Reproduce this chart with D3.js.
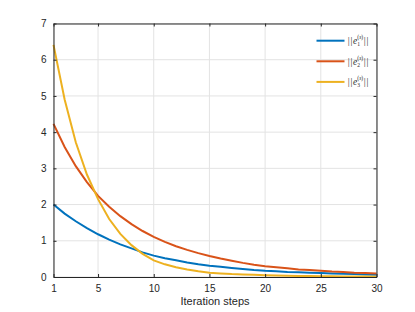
<!DOCTYPE html>
<html>
<head>
<meta charset="utf-8">
<script src="https://cdn.jsdelivr.net/npm/d3@7"></script>
<style>
  body { margin: 0; background: #fff; }
  svg { display: block; font-family: "Liberation Sans", Arial, sans-serif; }
</style>
</head>
<body>
<div id="chart"></div>
<script>
// values, one per iteration step
var steps = d3.range(1, 31);
var e1 = [2.00, 1.75, 1.54, 1.35, 1.18, 1.03, 0.90, 0.79, 0.68, 0.59,
          0.52, 0.46, 0.40, 0.35, 0.31, 0.28, 0.25, 0.22, 0.19, 0.17,
          0.16, 0.14, 0.13, 0.12, 0.11, 0.10, 0.09, 0.08, 0.07, 0.06];
var e2 = [4.23, 3.59, 3.06, 2.62, 2.24, 1.94, 1.68, 1.46, 1.27, 1.11,
          0.97, 0.85, 0.75, 0.66, 0.58, 0.51, 0.45, 0.39, 0.34, 0.30,
          0.27, 0.24, 0.21, 0.19, 0.17, 0.15, 0.14, 0.12, 0.11, 0.10];
var e3 = [6.41, 4.90, 3.72, 2.83, 2.15, 1.60, 1.19, 0.88, 0.64, 0.46,
          0.35, 0.27, 0.21, 0.16, 0.12, 0.10, 0.08, 0.07, 0.06, 0.05,
          0.04, 0.035, 0.03, 0.025, 0.02, 0.018, 0.015, 0.013, 0.011, 0.01];
var xTicks = [1, 5, 10, 15, 20, 25, 30];
var yTicks = [0, 1, 2, 3, 4, 5, 6, 7];
var seriesNames = ["1", "2", "3"];
var colors = ["#0072BD", "#D95319", "#EDB120"];

var W = 415, H = 312;
var margin = {top: 23.5, right: 38.5, bottom: 35, left: 53.5};
var width = W - margin.left - margin.right,
    height = H - margin.top - margin.bottom;

var svg = d3.select("#chart").append("svg").attr("width", W).attr("height", H);
var g = svg.append("g").attr("transform", "translate(" + margin.left + "," + margin.top + ")");

var x = d3.scaleLinear().domain([1, 30]).range([0, width]);
var y = d3.scaleLinear().domain([0, 7]).range([height, 0]);

var axisCol = "#262626";

// grid
g.append("g").selectAll("line").data(xTicks).enter().append("line")
  .attr("x1", d => x(d)).attr("x2", d => x(d)).attr("y1", 0).attr("y2", height)
  .attr("stroke", "#e3e3e3").attr("stroke-width", 1);
g.append("g").selectAll("line").data(yTicks).enter().append("line")
  .attr("y1", d => y(d)).attr("y2", d => y(d)).attr("x1", 0).attr("x2", width)
  .attr("stroke", "#e3e3e3").attr("stroke-width", 1);

// lines
var series = [e1, e2, e3];
var line = d3.line().x((d, i) => x(steps[i])).y(d => y(d));
series.forEach(function(s, i) {
  g.append("path").datum(s)
    .attr("fill", "none")
    .attr("stroke", colors[i])
    .attr("stroke-width", 2)
    .attr("d", line);
});

// axes, ticks inward, box on
function styleAxis(sel) {
  sel.select(".domain").attr("stroke", axisCol);
  sel.selectAll(".tick line").attr("stroke", axisCol);
  sel.selectAll(".tick text").attr("fill", axisCol).attr("font-size", 10);
}
g.append("g").attr("transform", "translate(0," + height + ")")
  .call(d3.axisBottom(x).tickValues(xTicks).tickSizeInner(-3).tickSizeOuter(0).tickPadding(8).tickFormat(d3.format("d")))
  .call(styleAxis);
g.append("g")
  .call(d3.axisLeft(y).tickValues(yTicks).tickSizeInner(-3).tickSizeOuter(0).tickPadding(7).tickFormat(d3.format("d")))
  .call(styleAxis);
g.append("g")
  .call(d3.axisTop(x).tickValues(xTicks).tickSizeInner(-3).tickSizeOuter(0).tickFormat(""))
  .call(styleAxis);
g.append("g").attr("transform", "translate(" + width + ",0)")
  .call(d3.axisRight(y).tickValues(yTicks).tickSizeInner(-3).tickSizeOuter(0).tickFormat(""))
  .call(styleAxis);

// x label
svg.append("text")
  .attr("x", margin.left + width / 2).attr("y", 305)
  .attr("text-anchor", "middle").attr("font-size", 11).attr("fill", axisCol)
  .text("Iteration steps");

// legend (no box)
var legend = g.append("g").selectAll("g").data(seriesNames).enter().append("g")
  .attr("transform", (d, i) => "translate(263," + (17.2 + i * 20.6) + ")");
legend.append("line")
  .attr("x1", 0).attr("x2", 28).attr("y1", 0).attr("y2", 0)
  .attr("stroke", (d, i) => colors[i]).attr("stroke-width", 2);
var lt = legend.append("g").attr("fill", axisCol).attr("font-family", "'Liberation Serif', serif");
lt.append("text").attr("x", 31.3).attr("y", 3.5).attr("font-size", 9.5).attr("letter-spacing", 0.8).text("||");
lt.append("text").attr("x", 36.4).attr("y", 3.5).attr("font-size", 9.5).attr("font-style", "italic").text("e");
var sup = lt.append("text").attr("x", 40.8).attr("y", -1.5).attr("font-size", 5.5);
sup.append("tspan").text("(");
sup.append("tspan").attr("font-style", "italic").text("s");
sup.append("tspan").text(")");
lt.append("text").attr("x", 40.8).attr("y", 5.5).attr("font-size", 5.5).text(d => d);
lt.append("text").attr("x", 47.3).attr("y", 3.5).attr("font-size", 9.5).attr("letter-spacing", 0.8).text("||");
</script>
</body>
</html>
